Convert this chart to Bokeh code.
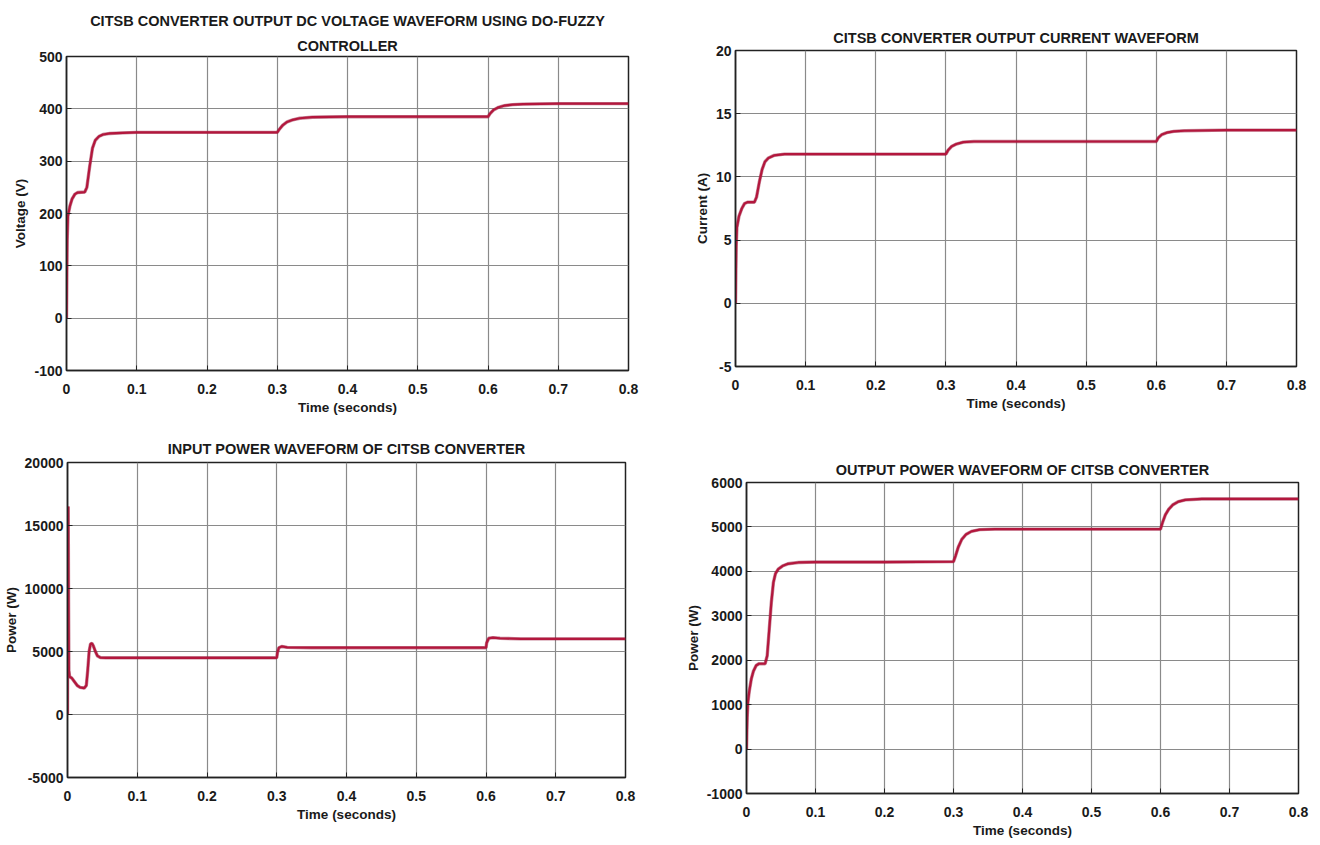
from bokeh.plotting import figure
from bokeh.layouts import column, row
from bokeh.models import FixedTicker, CustomJSTickFormatter, Range1d, Title
from bokeh.embed import file_html
from bokeh.resources import INLINE

# ---- simulation traces (time in seconds) ----
volt_t = [0, 0.001, 0.002, 0.005, 0.008, 0.012, 0.016, 0.026, 0.029, 0.033, 0.037,
          0.041, 0.046, 0.052, 0.062, 0.08, 0.1, 0.2, 0.3, 0.303, 0.308, 0.314,
          0.322, 0.332, 0.35, 0.4, 0.6, 0.603, 0.608, 0.615, 0.623, 0.635, 0.65,
          0.7, 0.8]
volt_v = [0, 150, 195, 215, 228, 237, 240, 241, 250, 290, 325,
          340, 347, 351, 353, 354, 355, 355, 355, 361, 369, 375,
          379, 382, 384, 385, 385, 391, 398, 403, 406, 408, 409,
          410, 410]

curr_t = [0, 0.001, 0.002, 0.005, 0.009, 0.013, 0.017, 0.027, 0.030, 0.034, 0.038,
          0.042, 0.047, 0.055, 0.07, 0.1, 0.3, 0.303, 0.308, 0.315, 0.325, 0.34,
          0.4, 0.6, 0.603, 0.608, 0.615, 0.625, 0.64, 0.7, 0.8]
curr_a = [0, 4.5, 6.0, 6.9, 7.5, 7.9, 8.0, 8.0, 8.4, 9.6, 10.6,
          11.2, 11.5, 11.7, 11.8, 11.8, 11.8, 12.1, 12.4, 12.6, 12.75, 12.8,
          12.8, 12.8, 13.1, 13.35, 13.5, 13.6, 13.65, 13.7, 13.7]

pin_t = [0, 0.0005, 0.001, 0.0015, 0.002, 0.003, 0.006, 0.010, 0.014, 0.018, 0.024,
         0.027, 0.029, 0.031, 0.033, 0.035, 0.037, 0.040, 0.043, 0.047, 0.055,
         0.1, 0.2, 0.3, 0.301, 0.303, 0.307, 0.315, 0.35, 0.6, 0.601, 0.604,
         0.61, 0.62, 0.65, 0.8]
pin_w = [0, 12000, 16500, 9000, 3500, 3000, 2900, 2600, 2300, 2150, 2100,
         2300, 3500, 5000, 5600, 5650, 5450, 5000, 4650, 4520, 4500,
         4500, 4500, 4500, 4900, 5300, 5400, 5330, 5300, 5300, 5700, 6050,
         6100, 6050, 6000, 6000]

pout_t = [0, 0.001, 0.002, 0.004, 0.007, 0.010, 0.014, 0.018, 0.027, 0.030, 0.033,
          0.036, 0.039, 0.042, 0.046, 0.052, 0.06, 0.075, 0.1, 0.2, 0.3, 0.303,
          0.307, 0.312, 0.318, 0.326, 0.338, 0.36, 0.6, 0.603, 0.607, 0.612,
          0.618, 0.626, 0.636, 0.66, 0.8]
pout_w = [0, 700, 1050, 1300, 1580, 1750, 1880, 1920, 1920, 2100, 2700,
          3300, 3750, 3950, 4050, 4120, 4170, 4200, 4210, 4210, 4220, 4350,
          4550, 4720, 4830, 4900, 4940, 4950, 4950, 5100, 5270, 5400,
          5500, 5570, 5610, 5630, 5630]

# ---- axis ticks ----
time_ticks = [0, 0.1, 0.2, 0.3, 0.4, 0.5, 0.6, 0.7, 0.8]
volt_ticks = [-100, 0, 100, 200, 300, 400, 500]
curr_ticks = [-5, 0, 5, 10, 15, 20]
pin_ticks = [-5000, 0, 5000, 10000, 15000, 20000]
pout_ticks = [-1000, 0, 1000, 2000, 3000, 4000, 5000, 6000]

FONT = "'Liberation Sans', Arial, sans-serif"
TRACE = "#B3173D"
INK = "#1a1a1a"


def style_title(t, standoff):
    t.align = "center"
    t.text_font = FONT
    t.text_font_size = "14.5px"
    t.text_font_style = "bold"
    t.text_color = INK
    t.standoff = standoff


def panel(titles, ylabel, t, y, yticks, width, height, borders, gap):
    left, right, top, bottom = borders
    p = figure(width=width, height=height, output_backend="svg",
               toolbar_location=None, tools="",
               x_range=Range1d(0, 0.8), y_range=Range1d(yticks[0], yticks[-1]),
               min_border_left=left, min_border_right=right,
               min_border_top=top, min_border_bottom=bottom)
    # first line is the outermost title; later lines sit closer to the frame
    p.title.text = titles[0]
    style_title(p.title, gap if len(titles) == 1 else 9)
    for line in titles[1:]:
        extra = Title(text=line)
        style_title(extra, gap)
        p.add_layout(extra, "above")

    p.xaxis.ticker = FixedTicker(ticks=time_ticks)
    p.yaxis.ticker = FixedTicker(ticks=yticks)
    fmt = CustomJSTickFormatter(code="return String(tick);")
    p.xaxis.formatter = fmt
    p.yaxis.formatter = fmt
    p.xaxis.axis_label = "Time (seconds)"
    p.yaxis.axis_label = ylabel
    for ax in (p.xaxis, p.yaxis):
        ax.axis_label_text_font = FONT
        ax.axis_label_text_font_size = "13.5px"
        ax.axis_label_text_font_style = "bold"
        ax.axis_label_text_color = INK
        ax.major_label_text_font = FONT
        ax.major_label_text_font_size = "14px"
        ax.major_label_text_font_style = "bold"
        ax.major_label_text_color = INK
        ax.major_tick_in = 5
        ax.major_tick_out = 0
        ax.minor_tick_line_color = None
        ax.axis_line_color = "#222222"
        ax.axis_line_width = 1.5
        ax.major_tick_line_color = "#222222"
    p.xaxis.major_label_standoff = 13
    p.yaxis.major_label_standoff = 4
    p.xaxis.axis_label_standoff = 3
    p.yaxis.axis_label_standoff = 3

    p.xgrid.ticker = FixedTicker(ticks=time_ticks)
    p.ygrid.ticker = FixedTicker(ticks=yticks)
    for g in (p.xgrid, p.ygrid):
        g.grid_line_color = "#8a8a8a"
        g.grid_line_width = 1.2

    p.outline_line_color = "#222222"
    p.outline_line_width = 1.5
    p.background_fill_color = "white"
    p.border_fill_color = "white"

    p.line(t, y, line_color="#8F1233", line_width=3.4, line_alpha=0.5)
    p.line(t, y, line_color=TRACE, line_width=2.2)
    return p


p1 = panel(["CITSB CONVERTER OUTPUT DC VOLTAGE WAVEFORM USING DO-FUZZY", "CONTROLLER"],
           "Voltage (V)", volt_t, volt_v, volt_ticks, 680, 420, (66, 52, 56, 50), 5)
p2 = panel(["CITSB CONVERTER OUTPUT CURRENT WAVEFORM"],
           "Current (A)", curr_t, curr_a, curr_ticks, 640, 420, (55, 24, 50, 54), 9)
p3 = panel(["INPUT POWER WAVEFORM OF CITSB CONVERTER"],
           "Power (W)", pin_t, pin_w, pin_ticks, 680, 425, (64, 55, 42, 68), 12)
p4 = panel(["OUTPUT POWER WAVEFORM OF CITSB CONVERTER"],
           "Power (W)", pout_t, pout_w, pout_ticks, 640, 425, (66, 22, 62, 52), 9)

# each panel sits in its own column so the frames keep their own offsets
layout = column(row(column(p1), column(p2), spacing=0),
                row(column(p3), column(p4), spacing=0), spacing=0)

open("out.html", "w").write(file_html(layout, INLINE))
